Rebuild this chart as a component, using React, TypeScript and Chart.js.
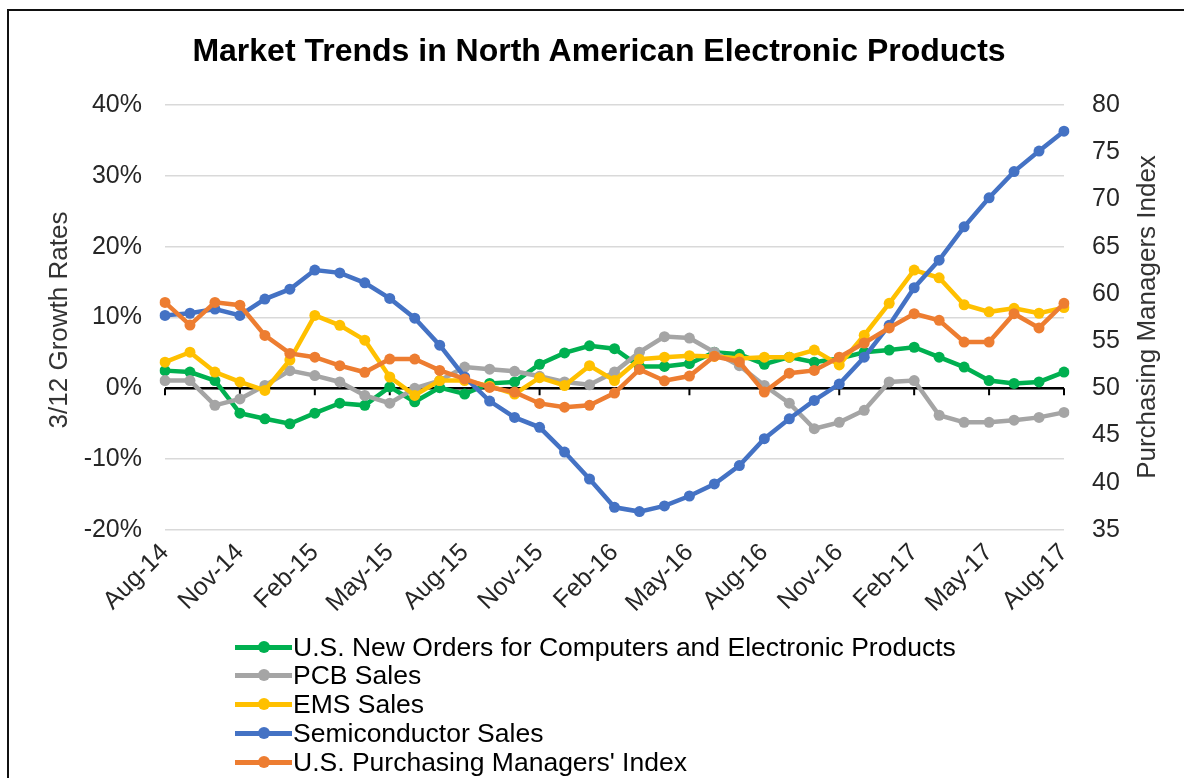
import React, { useEffect, useRef } from "react";
import { Chart, registerables } from "chart.js";

Chart.register(...registerables);

const FONT = "'Liberation Sans', Arial, Helvetica, sans-serif";

const monthLabels = [
  "Aug-14", "Sep-14", "Oct-14", "Nov-14", "Dec-14", "Jan-15", "Feb-15", "Mar-15", "Apr-15",
  "May-15", "Jun-15", "Jul-15", "Aug-15", "Sep-15", "Oct-15", "Nov-15", "Dec-15", "Jan-16",
  "Feb-16", "Mar-16", "Apr-16", "May-16", "Jun-16", "Jul-16", "Aug-16", "Sep-16", "Oct-16",
  "Nov-16", "Dec-16", "Jan-17", "Feb-17", "Mar-17", "Apr-17", "May-17", "Jun-17", "Jul-17", "Aug-17",
];

const newOrders = [
  2.5, 2.3, 1.1, -3.5, -4.3, -5.0, -3.5, -2.1, -2.4, 0.2, -1.9, 0.1, -0.8, 0.7, 0.9, 3.4, 5.0, 6.0,
  5.6, 3.1, 3.1, 3.5, 5.1, 4.8, 3.4, 4.4, 3.7, 4.2, 5.1, 5.4, 5.8, 4.4, 3.0, 1.1, 0.7, 0.9, 2.3,
];

const pcbSales = [
  1.1, 1.1, -2.4, -1.5, 0.4, 2.5, 1.8, 0.9, -1.0, -2.1, 0.0, 1.1, 3.0, 2.7, 2.4, 1.7, 0.9, 0.5,
  2.3, 5.1, 7.3, 7.1, 5.1, 3.2, 0.4, -2.1, -5.7, -4.8, -3.1, 0.9, 1.1, -3.8, -4.8, -4.8, -4.5, -4.1, -3.4,
];

const emsSales = [
  3.7, 5.1, 2.3, 0.9, -0.3, 4.0, 10.3, 8.9, 6.8, 1.6, -1.0, 1.1, 1.1, 0.3, -0.8, 1.5, 0.4, 3.2,
  1.1, 4.1, 4.4, 4.6, 4.5, 4.2, 4.4, 4.4, 5.4, 3.3, 7.5, 12.0, 16.7, 15.6, 11.8, 10.8, 11.3, 10.6, 11.4,
];

const semiSales = [
  10.3, 10.6, 11.2, 10.3, 12.6, 14.0, 16.7, 16.3, 14.9, 12.7, 9.9, 6.1, 1.6, -1.8, -4.1, -5.5, -9.0,
  -12.8, -16.8, -17.4, -16.6, -15.2, -13.5, -10.9, -7.1, -4.3, -1.7, 0.6, 4.4, 8.9, 14.2, 18.1, 22.8,
  26.9, 30.6, 33.5, 36.3,
];

const pmi = [
  59.1, 56.7, 59.1, 58.8, 55.6, 53.7, 53.3, 52.4, 51.7, 53.1, 53.1, 51.9, 51.0, 50.1, 49.6, 48.4, 48.0,
  48.2, 49.5, 52.0, 50.8, 51.3, 53.4, 52.8, 49.6, 51.6, 51.9, 53.3, 54.8, 56.4, 57.9, 57.2, 54.9, 54.9,
  57.9, 56.4, 59.0,
];

const seriesNames = [
  "U.S. New Orders for Computers and Electronic Products",
  "PCB Sales",
  "EMS Sales",
  "Semiconductor Sales",
  "U.S. Purchasing Managers' Index",
];
const seriesColors = ["#00B050", "#A5A5A5", "#FFC000", "#4472C4", "#ED7D31"];

const zeroLinePlugin = {
  id: "zeroLine",
  beforeDatasetsDraw(chart: any) {
    const { ctx, chartArea, scales } = chart;
    const y = scales.y.getPixelForValue(0);
    ctx.save();
    ctx.strokeStyle = "#000";
    ctx.lineWidth = 2.5;
    ctx.beginPath();
    ctx.moveTo(chartArea.left, y);
    ctx.lineTo(chartArea.right, y);
    ctx.stroke();
    ctx.lineWidth = 2;
    ctx.beginPath();
    for (let i = 0; i < monthLabels.length; i += 3) {
      const x = scales.x.getPixelForValue(i);
      ctx.moveTo(x, y);
      ctx.lineTo(x, y + 7);
    }
    ctx.stroke();
    ctx.restore();
  },
};

export default function App() {
  const ref = useRef<HTMLCanvasElement | null>(null);

  useEffect(() => {
    if (!ref.current) return;
    const seriesData = [newOrders, pcbSales, emsSales, semiSales, pmi];
    const datasets = seriesData.map((d, k) => ({
      label: seriesNames[k],
      data: d,
      borderColor: seriesColors[k],
      backgroundColor: seriesColors[k],
      pointBackgroundColor: seriesColors[k],
      pointBorderColor: seriesColors[k],
      pointBorderWidth: 0,
      pointRadius: 5.5,
      borderWidth: 4.5,
      tension: 0,
      yAxisID: k === 4 ? "y1" : "y",
      order: 5 - k,
    }));

    const chart = new Chart(ref.current, {
      type: "line",
      data: { labels: monthLabels, datasets },
      options: {
        responsive: false,
        animation: false,
        layout: { padding: { top: 105, left: 0, right: 0, bottom: 0 } },
        plugins: {
          legend: { display: false },
          tooltip: { enabled: false },
          title: { display: false },
        },
        scales: {
          x: {
            grid: { display: false, drawTicks: false },
            border: { display: false },
            ticks: {
              autoSkip: false,
              minRotation: 45,
              maxRotation: 45,
              padding: 8,
              color: "#262626",
              font: { family: FONT, size: 25 },
              callback: (_v: any, i: number) => (i % 3 === 0 ? monthLabels[i] : ""),
            },
            afterFit: (s: any) => {
              s.height = 248;
            },
          },
          y: {
            position: "left",
            min: -20,
            max: 40,
            grid: { color: "#D9D9D9", lineWidth: 1.5, drawTicks: false },
            border: { display: false },
            ticks: {
              stepSize: 10,
              padding: 23,
              color: "#262626",
              font: { family: FONT, size: 25 },
              callback: (v: any) => `${v}%`,
            },
            afterFit: (s: any) => {
              s.width = 165;
            },
          },
          y1: {
            position: "right",
            min: 35,
            max: 80,
            grid: { display: false, drawTicks: false },
            border: { display: false },
            ticks: {
              stepSize: 5,
              padding: 28,
              color: "#262626",
              font: { family: FONT, size: 25 },
            },
            afterFit: (s: any) => {
              s.width = 120;
            },
          },
        },
      },
      plugins: [zeroLinePlugin],
    } as any);
    return () => chart.destroy();
  }, []);

  return (
    <div
      style={{
        position: "fixed",
        left: 0,
        top: 0,
        width: 1184,
        height: 778,
        overflow: "hidden",
        background: "#fff",
        fontFamily: FONT,
      }}
    >
      <div
        style={{
          position: "absolute",
          left: 7,
          top: 9,
          width: 1200,
          height: 820,
          border: "2px solid #111",
          boxSizing: "border-box",
        }}
      />
      <canvas
        ref={ref}
        width={1184}
        height={778}
        style={{ position: "absolute", left: 0, top: 0, display: "block" }}
      />
      <div
        style={{
          position: "absolute",
          left: 0,
          width: 1198,
          top: 34,
          textAlign: "center",
          fontWeight: "bold",
          fontSize: 32,
          lineHeight: "32px",
          color: "#000",
          whiteSpace: "nowrap",
        }}
      >
        Market Trends in North American Electronic Products
      </div>
      <div
        style={{
          position: "absolute",
          left: 58 - 200,
          top: 320 - 15,
          width: 400,
          height: 30,
          lineHeight: "30px",
          fontSize: 26,
          textAlign: "center",
          color: "#333",
          transform: "rotate(-90deg)",
          whiteSpace: "nowrap",
        }}
      >
        3/12 Growth Rates
      </div>
      <div
        style={{
          position: "absolute",
          left: 1146 - 200,
          top: 317 - 15,
          width: 400,
          height: 30,
          lineHeight: "30px",
          fontSize: 26,
          textAlign: "center",
          color: "#333",
          transform: "rotate(-90deg)",
          whiteSpace: "nowrap",
        }}
      >
        Purchasing Managers Index
      </div>
      {seriesNames.map((name, k) => {
        const centers = [647, 675, 704, 733, 762];
        return (
          <div
            key={name}
            style={{
              position: "absolute",
              left: 235,
              top: centers[k] - 14,
              height: 28,
              display: "flex",
              alignItems: "center",
              whiteSpace: "nowrap",
            }}
          >
            <div style={{ position: "relative", width: 57, height: 28, marginRight: 1 }}>
              <div
                style={{
                  position: "absolute",
                  left: 0,
                  top: 11.5,
                  width: 57,
                  height: 5,
                  background: seriesColors[k],
                }}
              />
              <div
                style={{
                  position: "absolute",
                  left: 22.5,
                  top: 8,
                  width: 12,
                  height: 12,
                  borderRadius: 6,
                  background: seriesColors[k],
                }}
              />
            </div>
            <span style={{ fontSize: 26.5, lineHeight: "28px", color: "#000" }}>{name}</span>
          </div>
        );
      })}
    </div>
  );
}
